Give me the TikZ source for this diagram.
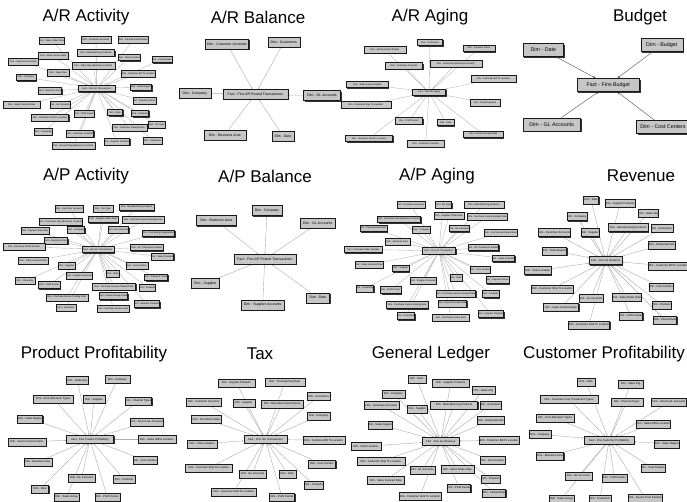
\documentclass[tikz,border=0pt]{standalone}
\usepackage{fontspec}
\setmainfont{Liberation Sans}
\usetikzlibrary{shadows,backgrounds,arrows.meta}
\tikzset{
  dimbox/.style={draw=black!90, fill=gray!45, line width=0.4pt, inner sep=0.3pt,
    drop shadow={shadow xshift=1.1pt, shadow yshift=-1.1pt, fill=black!80, opacity=1}},
  dense/.style={font=\fontsize{2.35}{2.6}\selectfont, minimum height=6.8pt},
  mid/.style={font=\fontsize{2.75}{3}\selectfont, minimum height=8pt},
  bal/.style={font=\fontsize{3.5}{3.9}\selectfont, minimum height=10pt},
  bud/.style={font=\fontsize{5.3}{5.8}\selectfont, minimum height=13pt,
    drop shadow={shadow xshift=1.5pt, shadow yshift=-1.5pt, fill=black!80, opacity=1}},
  thinlink/.style={draw=gray!60, line width=0.35pt, -{Latex[length=1.3pt,width=1.3pt]}},
  midlink/.style={draw=gray!65, line width=0.4pt, -{Latex[length=1.6pt,width=1.6pt]}},
  boldlink/.style={draw=black!60, line width=0.5pt, -{Latex[length=2.6pt,width=2.6pt]}},
  ttl/.style={font=\fontsize{17}{19}\selectfont, inner sep=0pt}
}
% #1 name, #2 x, #3 y, #4 width, #5 text, #6 node style, #7 link style, #8 list
\newcommand\starpanel[8]{%
  \node[dimbox,#6,minimum width=#4*1pt] (#1c) at (#2,#3) {#5};
  \foreach \x/\y/\w/\lbl [count=\i] in {#8} {%
    \node[dimbox,#6,minimum width=\w*1pt] (#1s\i) at (\x,\y) {\lbl};
    \begin{pgfonlayer}{background}
      \draw[#7] (#1s\i) -- (#1c);
    \end{pgfonlayer}
  }%
}
\begin{document}
\begin{tikzpicture}[x=1pt,y=-1pt]
\useasboundingbox (0,0) rectangle (687,502);

% titles
\node[ttl] (t1) at (86,17) {A/R Activity};
\node[ttl] (t2) at (258,17) {A/R Balance};
\node[ttl] (t3) at (430,17) {A/R Aging};
\node[ttl] (t4) at (640,17) {Budget};
\node[ttl] (t5) at (86,176) {A/P Activity};
\node[ttl] (t6) at (265,176) {A/P Balance};
\node[ttl] (t7) at (437,176) {A/P Aging};
\node[ttl] (t8) at (641,176) {Revenue};
\node[ttl] (t9) at (94,354) {Product Profitability};
\node[ttl] (t10) at (260,354) {Tax};
\node[ttl] (t11) at (431,354) {General Ledger};
\node[ttl] (t12) at (604,354) {Customer Profitability};

% A/R Activity
\starpanel{pa}{96.7}{88.3}{37}{Fact - Fins AR Transactions}{dense}{thinlink}{
51.7/40.7/22/Dim - Sales Order Date,
96/39.7/30/Dim - Customer Accounts,
133.3/39.7/27/Dim - AR Document Details,
96/53/37/Dim - Manufacturing Products,
53.3/56/30/Dim - Sales Invoice Date,
23.3/61.7/30/Dim - Payment Due Date,
93.3/65.7/43/Dim - Sales Rep (Business Contact),
129.3/57.3/18/Dim - Sales Contact,
161.7/59.3/20/Dim - Closed Date,
58.3/72.7/22/Dim - Sales Rep,
26/77.3/20/Dim - Company,
138.3/74/33/Dim - Customer Bill To Location,
141/87.3/17/Dim - Sales Region,
50/91/23/Dim - Business Area,
21.7/105/37/Dim - Sales Invoiced Date,
60/105/18/Dim - GL Accounts,
144.3/101/22/Dim - Payment Terms,
50/117.7/37/Dim - Customer Sold To Location,
84.3/113.7/18/Dim - Profit Center,
115/112.3/15/Dim - Date,
140/113.3/17/Dim - Products,
129.3/127.7/35/Dim - Customer Receipt Date,
156.7/125/15/Dim - Tax Type,
43.3/131.7/17/Dim - Closed By,
80/133.7/27/Dim - Customer Contacts,
116.7/141.7/23/Dim - Supplier Products,
152.7/141/18/Dim - Customers,
73.3/145.7/43/Dim - Account Rep (Business Contact)}

% A/R Balance
\starpanel{pb}{255.3}{94.3}{65}{Fact - Fins AR Posted Transactions}{bal}{midlink}{
227/44/43/Dim - Customer Accounts,
283.7/42.3/32/Dim - Customers,
194.7/93.3/32/Dim - Company,
322/95.7/37/Dim - GL Accounts,
224.7/135/42/Dim - Business Area,
283/136/22/Dim - Date}

% A/R Aging
\starpanel{pc}{429}{92.3}{33}{Fact - Fins AR Aging}{dense}{thinlink}{
430/42.3/25/Dim - Customers,
384.7/50/42/Dim - AR Document Details,
479/48.3/32/Dim - Payment Terms,
404/66/37/Dim - Customer Accounts,
455.7/64/52/Dim - Sales Rep (Business Contact),
367.3/84.3/42/Dim - Sales Invoice Details,
493.3/79/45/Dim - Customer Bill To Location,
365.7/105/50/Dim - Customer Ship To Location,
485/102.7/30/Dim - Fixed Payment,
409/121/27/Dim - Profit Center,
445.7/122.3/17/Dim - Date,
369/138.3/47/Dim - Customer Sold To Location,
483.3/134.3/40/Dim - Invoice Receipt Date,
425.7/144/37/Dim - Customer Contacts}

% Budget
\starpanel{pd}{608.3}{85}{62}{Fact - Fins Budget}{bud}{boldlink}{
543.3/50/40/Dim - Date,
661.7/45/42/Dim - Budget,
551.7/124.3/57/Dim - GL Accounts,
663/126.7/53/Dim - Cost Centers}

% A/P Activity
\starpanel{pe}{97.7}{249.3}{32}{Fact - Fins AP Transactions}{dense}{thinlink}{
69.3/209/28/Dim - Customer Accounts,
102.7/209/20/Dim - Tax Type,
136.7/207.3/35/Dim - Manufacturing Products,
60.7/222/43/Dim - Purchaser Rep (Business Contact),
103.3/219.3/30/Dim - Supplier Order Date,
143.3/220/42/Dim - Purchase Invoice Receipt Date,
35/231/28/Dim - Payment Due Date,
76/230/17/Dim - Company,
118.3/230/20/Dim - GL Accounts,
158.3/233.3/30/Dim - Purchasing Organization,
56/241/23/Dim - Business Area,
24/246.7/42/Dim - Purchase Order Number,
146.7/247.3/33/Dim - AP Transaction Details,
33.3/261/30/Dim - Sales Invoiced Date,
162.3/256.7/22/Dim - Sales Products,
66.7/265.7/17/Dim - Supplier,
136.7/266/22/Dim - Cost Centers,
79.3/276/25/Dim - Supplier Accounts,
112.7/274/13/Dim - Date,
156/277.3/23/Dim - Payment Terms,
25/280.7/20/Dim - Closed By,
49.3/285/22/Dim - Profit Center,
114/286.7/43/Dim - Purchase Invoice Cleared Date,
147.3/287.3/15/Dim - Products,
66.7/297.3/42/Dim - Purchase Invoice Posting Date,
113.3/296/27/Dim - Invoice Receipt Date,
146.7/304/25/Dim - Supplier Products,
66/307.3/20/Dim - Purchaser,
113.3/308.3/32/Dim - Purchase Invoice Sent}

% A/P Balance
\starpanel{pf}{264.7}{259.3}{62}{Fact - Fins AP Posted Transactions}{bal}{midlink}{
267/210.7/30/Dim - Company,
216.3/220.7/40/Dim - Business Area,
317.7/223.3/35/Dim - GL Accounts,
205.3/283.3/28/Dim - Supplier,
262.7/305/43/Dim - Supplier Accounts,
318/297.7/23/Dim - Date}

% A/P Aging
\starpanel{pg}{439}{251}{33}{Fact - Fins AP Transactions}{dense}{thinlink}{
410.7/205/28/Dim - Customer Accounts,
443.3/205/15/Dim - Tax Type,
484/205/40/Dim - Manufacturing Products,
399/219.3/38/Dim - Purchaser Rep (Business Contact),
449/216/30/Dim - Supplier Order Date,
487.3/216.7/40/Dim - Purchase Invoice Receipt Date,
373.3/228.3/27/Dim - Payment Due Date,
421.3/230/18/Dim - Company,
459/228.3/18/Dim - GL Accounts,
500.7/232.7/28/Dim - Purchasing Organization,
397.3/241.7/25/Dim - Business Area,
363.3/249.3/38/Dim - Purchase Order Number,
483.3/247.3/30/Dim - AP Transaction Details,
503.3/258.3/20/Dim - Sales Products,
369/265/25/Dim - Sales Invoiced Date,
400.7/268.3/17/Dim - Supplier,
480/270/18/Dim - Cost Centers,
423.3/280.7/25/Dim - Supplier Accounts,
455.7/277.7/12/Dim - Date,
497.3/280/20/Dim - Payment Terms,
364.7/288.3/17/Dim - Closed By,
390.7/290/17/Dim - Profit Center,
455.7/293.3/38/Dim - Purchase Invoice Cleared Date,
490.7/294/13/Dim - Products,
407.3/305/42/Dim - Purchase Invoice Posting Date,
452.3/303.3/25/Dim - Invoice Receipt Date,
490.7/314/23/Dim - Supplier Products,
405.7/316/17/Dim - Purchaser,
450.7/317.7/37/Dim - Purchase Invoice Sent}

% Revenue
\starpanel{ph}{605.7}{260.7}{33}{Fact - Fins GL Revenue}{mid}{midlink}{
591/200/15/Dim - Date,
620/203.3/30/Dim - Supplier Products,
648.3/213.3/17/Dim - Sales Org,
576.7/216.7/20/Dim - Company,
554.3/232.7/28/Dim - Customer Accounts,
590/232.7/17/Dim - Supplier,
628.3/227.7/40/Dim - Manufacturing Products,
661.7/228.3/22/Dim - Customers,
661.7/245/25/Dim - Delivered Date,
554.3/251/23/Dim - Sales Region,
668/266/37/Dim - Customer Bill To Location,
537.7/270.7/27/Dim - Plant Location,
661/286.7/22/Dim - Cost Centers,
552.3/289/42/Dim - Customer Ship To Location,
591/298.3/18/Dim - GL Accounts,
626.7/297.3/27/Dim - Sales Order Date,
661.7/305/18/Dim - Products,
561/307.3/35/Dim - Sales Invoiced Date,
631/316/22/Dim - Profit Center,
665/320/22/Dim - Closed Date,
589/325/37/Dim - Customer Sold To Location}

% Product Profitability
\starpanel{pi}{90}{439.3}{47}{Fact - Fins Product Profitability}{mid}{midlink}{
77.3/380.3/22/Dim - Sales Org,
117.3/379.3/25/Dim - Company,
53.3/398.7/40/Dim - Cost Allocation Types,
94/399.3/22/Dim - Supplier,
138.3/401/25/Dim - Channel Types,
30/418.7/25/Dim - Sales Region,
146.7/422/30/Dim - Source GL Accounts,
26.7/442/38/Dim - Source Cost Centers,
156.7/439.3/38/Dim - Sales Office Location,
37.7/462/28/Dim - Business Area,
145/460.3/23/Dim - Cost Centers,
81.7/478/27/Dim - GL Accounts,
124/479.3/22/Dim - Products,
40/488.7/17/Dim - Date,
66.7/497/25/Dim - Sales Group,
107.3/497/25/Dim - Profit Center}

% Tax
\starpanel{pj}{265.3}{439.3}{43}{Fact - Fins Tax Transactions}{mid}{midlink}{
236.3/382.7/37/Dim - Supplier Products,
284.7/382/40/Dim - Tax Reporting Date,
203.7/402/35/Dim - Customer Accounts,
243.7/402.7/22/Dim - Supplier,
282/403.7/42/Dim - Manufacturing Products,
318.7/396.3/23/Dim - Customers,
318.7/416/23/Dim - Company,
206.3/419.3/30/Dim - Tax Return Date,
323.7/440.3/42/Dim - Customer Bill To Location,
202/443.7/30/Dim - Plant Location,
208.7/468/47/Dim - Customer Ship To Location,
252.7/473.7/27/Dim - GL Accounts,
287.3/473.7/17/Dim - Date,
322/463.7/27/Dim - Cost Centers,
313.7/484.7/18/Dim - Products,
233.7/492/45/Dim - Customer Sold To Location,
282/497/25/Dim - Profit Center}

% General Ledger
\starpanel{pk}{440.7}{441.3}{37}{Fact - Fins GL Revenue}{mid}{midlink}{
416.7/378.7/18/Dim - Date,
450.7/382.7/37/Dim - Supplier Products,
483.3/390.3/23/Dim - Sales Org,
393.3/393.7/23/Dim - Company,
381.3/405.3/35/Dim - Customer Accounts,
417.3/408.7/20/Dim - Supplier,
454/404.7/47/Dim - Manufacturing Products,
490.7/404.7/20/Dim - Customers,
490.7/420.3/25/Dim - Delivered Date,
380/424.7/23/Dim - Sales Region,
499/440.3/40/Dim - Customer Bill To Location,
365.7/446.3/30/Dim - Plant Location,
492.3/460.3/25/Dim - Cost Centers,
380.7/461.3/48/Dim - Customer Ship To Location,
422.3/469.7/25/Dim - GL Accounts,
457.3/469.3/33/Dim - Sales Order Date,
490.7/478.7/18/Dim - Products,
385.7/480.3/37/Dim - Sales Invoiced Date,
459/488/22/Dim - Profit Center,
494/493/22/Dim - Closed Date,
420/496.3/42/Dim - Customer Sold To Location}

% Customer Profitability
\starpanel{pl}{609}{440.3}{50}{Fact - Fins Customer Profitability}{mid}{midlink}{
586/382/18/Dim - Date,
630.7/383.7/25/Dim - Sales Org,
569/399.3/58/Dim - Customer Cost Transaction Types,
626.7/402/32/Dim - Channel Types,
669/402/35/Dim - Source GL Accounts,
555/418/38/Dim - Cost Allocation Types,
653.3/423.7/28/Dim - Sales Office Location,
540/434.3/22/Dim - Company,
666.7/443.7/22/Dim - Sales Region,
550/456/27/Dim - Business Area,
652.7/468/22/Dim - Cost Centers,
578.3/476/27/Dim - GL Accounts,
614.3/478/25/Dim - Profit Center,
561.7/498.7/25/Dim - Sales Group,
600/498.7/22/Dim - Customers,
645/498/32/Dim - Source Cost Centers}
\end{tikzpicture}
\end{document}
